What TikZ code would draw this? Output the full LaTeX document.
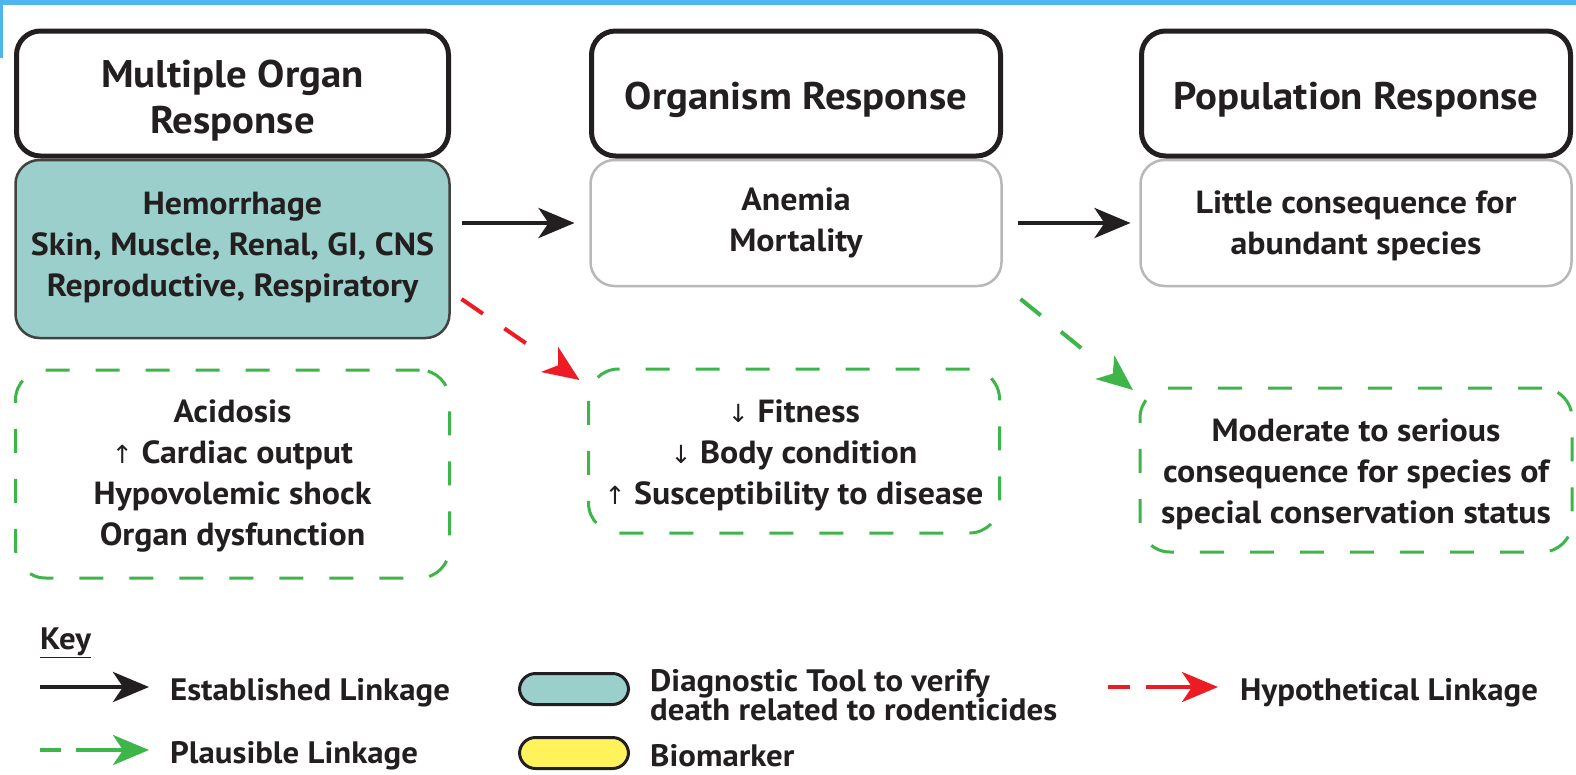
\documentclass[tikz,border=0pt]{standalone}
\usepackage{fontspec}
\setmainfont{PT Sans}[FakeStretch=1.06]
\newfontfamily\symfont{DejaVu Sans}
\usetikzlibrary{arrows.meta}
\definecolor{ink}{HTML}{231F20}
\definecolor{framebar}{HTML}{4DB6EC}
\definecolor{tealfill}{HTML}{9BCFCB}
\definecolor{softgray}{HTML}{B8B8B8}
\definecolor{plgreen}{HTML}{3DB549}
\definecolor{hyred}{HTML}{ED1C24}
\definecolor{biomark}{HTML}{FFF25A}
\newcommand\headfont{\fontsize{38.5}{46}\selectfont\bfseries}
\newcommand\bodyfont{\fontsize{32}{41}\selectfont\bfseries}
\newcommand\keyfont{\fontsize{31}{27}\selectfont\bfseries}
\newcommand\up{{\symfont\mdseries\fontsize{25}{25}\selectfont↑}}
\newcommand\down{{\symfont\mdseries\fontsize{25}{25}\selectfont↓}}
\tikzset{
  boxbase/.style={inner sep=0pt, outer sep=0pt},
  head/.style={boxbase, draw=ink, line width=5pt, rounded corners=24pt,
    fill=white, minimum height=125pt},
  tealbody/.style={boxbase, draw=ink!85, line width=2.5pt, rounded corners=24pt,
    fill=tealfill},
  graybody/.style={boxbase, draw=softgray, line width=2.5pt, rounded corners=24pt,
    fill=white},
  dbox/.style={boxbase, draw=plgreen, line width=3pt,
    dash pattern=on 24pt off 26pt, rounded corners=30pt},
  headtext/.style={inner sep=0pt, align=center, font=\headfont, text=ink},
  bodytext/.style={inner sep=0pt, align=center, font=\bodyfont, text=ink},
  pill/.style={draw=ink, line width=3pt, rounded corners=16pt,
    minimum width=109pt, minimum height=31pt, inner sep=0pt},
  keytext/.style={anchor=west, inner sep=0pt, align=left, font=\keyfont, text=ink},
  tipb/.style={-{Stealth[length=36pt, width=30pt, inset=10pt]}},
  estab/.style={tipb, draw=ink, line width=4.5pt},
  plaus/.style={tipb, draw=plgreen, color=plgreen, line width=4pt},
  hypo/.style={tipb, draw=hyred, color=hyred, line width=4pt}
}
\begin{document}
\begin{tikzpicture}[x=1pt, y=-1pt]
\useasboundingbox (0,0) rectangle (1576,774);
\fill[white] (0,0) rectangle (1576,774);
% frame bars
\fill[framebar] (0,0) rectangle (1576,5);
\fill[framebar] (0,0) rectangle (2.5,58);

% response bodies (drawn first so header borders sit on top)
\node[tealbody, minimum width=434pt, minimum height=178pt] (b1) at (232.5,249) {};
\node[graybody, minimum width=411pt, minimum height=126pt] (b2) at (796,223) {};
\node[graybody, minimum width=431pt, minimum height=126pt] (b3) at (1356,223) {};
\node[bodytext, yshift=1.5pt] (b1t) at (b1) {Hemorrhage\\Skin, Muscle, Renal, GI, CNS\\Reproductive, Respiratory};
\node[bodytext] (b2t) at (b2) {Anemia\\Mortality};
\node[bodytext, yshift=-3pt] (b3t) at (b3) {Little consequence for\\abundant species};

% headers
\node[head, minimum width=432pt] (h1) at (232.5,93.5) {};
\node[head, minimum width=409pt] (h2) at (796,93.5) {};
\node[head, minimum width=429pt] (h3) at (1356,93.5) {};
\node[headtext, yshift=-7pt] (h1t) at (h1) {Multiple Organ\\Response};
\node[headtext, yshift=-6pt] (h2t) at (h2) {Organism Response};
\node[headtext, yshift=-6pt] (h3t) at (h3) {Population Response};

% secondary effects
\node[dbox, minimum width=434pt, minimum height=208pt] (d1) at (232.5,474) {};
\node[dbox, minimum width=411pt, minimum height=164pt] (d2) at (794,451) {};
\node[dbox, minimum width=432pt, minimum height=164pt] (d3) at (1356,470) {};
\node[bodytext, yshift=-2pt] (d1t) at (d1)
  {Acidosis\\\up\ Cardiac output\\Hypovolemic shock\\Organ dysfunction};
\node[bodytext, yshift=-4pt] (d2t) at (d2)
  {\down\ Fitness\\\down\ Body condition\\\up\ Susceptibility to disease};
\node[bodytext, yshift=-4pt] (d3t) at (d3)
  {Moderate to serious\\consequence for species of\\special conservation status};

% linkages
\draw[estab, shorten <=12pt, shorten >=16pt] (b1.east |- b2) -- (b2.west);
\draw[estab, shorten <=16pt, shorten >=10pt] (b2.east) -- (b3.west);
\coordinate (r0) at ([shift={(12pt,39pt)}]b1.south east);
\draw[hypo, dash pattern=on 26pt off 26pt on 26pt off 60pt]
  (r0) -- ([shift={(-9pt,-11pt)}]d2.north west);
\coordinate (g0) at ([shift={(19pt,-13pt)}]b2.south east);
\draw[plaus, dash pattern=on 26pt off 26pt on 26pt off 60pt]
  (g0) -- ([shift={(-7pt,-2pt)}]d3.north west);

% key
\node[keytext] (key) at (40,643) {\underline{Key}};
\coordinate (ka0) at (40,687);
\coordinate (ka1) at (149,687);
\draw[estab] (ka0) -- (ka1);
\node[keytext] (kt1) at (170,693) {Established Linkage};
\coordinate (kb0) at (40,750);
\coordinate (kb1) at (149,750);
\draw[plaus, dash pattern=on 21pt off 15pt on 90pt] (kb0) -- (kb1);
\node[keytext] (kt2) at (170,756) {Plausible Linkage};
\node[pill, fill=tealfill] (p1) at (574,689) {};
\node[keytext] (kt3) at (650,695) {Diagnostic Tool to verify\\death related to rodenticides};
\node[pill, fill=biomark] (p2) at (574,753) {};
\node[keytext] (kt4) at (650,756) {Biomarker};
\coordinate (kc0) at (1108,687);
\coordinate (kc1) at (1218,687);
\draw[hypo, dash pattern=on 22pt off 16pt on 90pt] (kc0) -- (kc1);
\node[keytext] (kt5) at (1240,693) {Hypothetical Linkage};
\end{tikzpicture}
\end{document}
